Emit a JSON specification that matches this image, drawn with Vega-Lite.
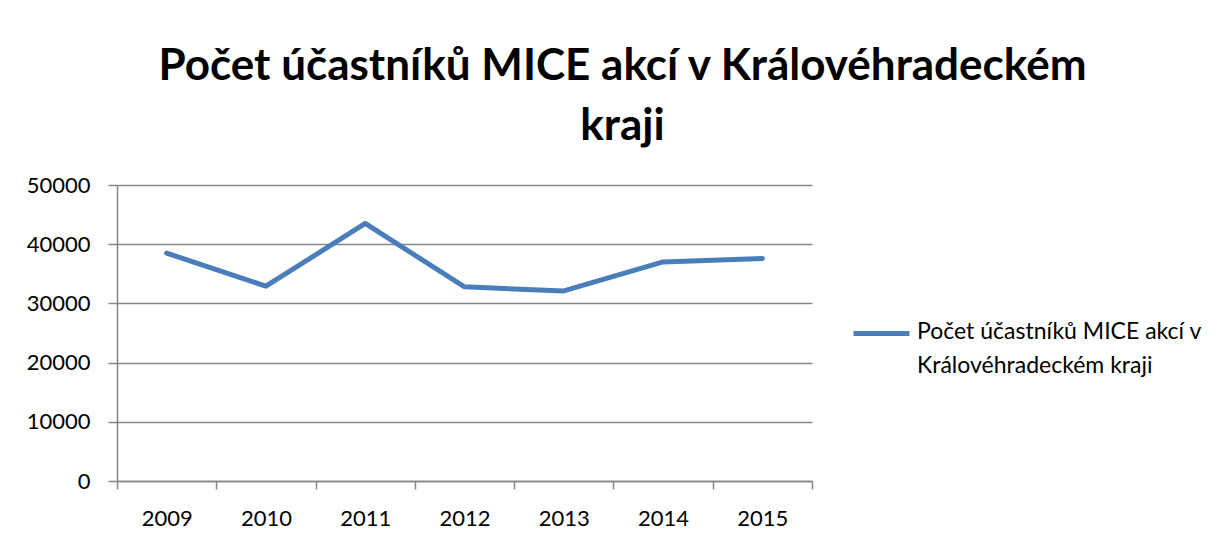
{
  "$schema": "https://vega.github.io/schema/vega-lite/v6.json",
  "autosize": "none",
  "width": 695,
  "height": 296,
  "padding": {"left": 117, "top": 185, "right": 412, "bottom": 60},
  "background": "white",
  "data": {
    "values": [
      {"rok": "2009", "pocet": 38500, "serie": "Počet účastníků MICE akcí v Královéhradeckém kraji"},
      {"rok": "2010", "pocet": 32900, "serie": "Počet účastníků MICE akcí v Královéhradeckém kraji"},
      {"rok": "2011", "pocet": 43500, "serie": "Počet účastníků MICE akcí v Královéhradeckém kraji"},
      {"rok": "2012", "pocet": 32800, "serie": "Počet účastníků MICE akcí v Královéhradeckém kraji"},
      {"rok": "2013", "pocet": 32100, "serie": "Počet účastníků MICE akcí v Královéhradeckém kraji"},
      {"rok": "2014", "pocet": 37000, "serie": "Počet účastníků MICE akcí v Královéhradeckém kraji"},
      {"rok": "2015", "pocet": 37600, "serie": "Počet účastníků MICE akcí v Královéhradeckém kraji"}
    ]
  },
  "title": {
    "text": ["Počet účastníků MICE akcí v Královéhradeckém", "kraji"],
    "font": "Lato",
    "fontSize": 44,
    "fontWeight": "bold",
    "color": "black",
    "lineHeight": 60,
    "anchor": "middle",
    "dx": 158,
    "offset": 25
  },
  "mark": {"type": "line", "strokeWidth": 5, "color": "#4A7EBB", "strokeCap": "round", "strokeJoin": "round"},
  "encoding": {
    "x": {
      "field": "rok",
      "type": "ordinal",
      "scale": {"paddingInner": 0, "paddingOuter": 0},
      "axis": {
        "title": null,
        "labelAngle": 0,
        "tickBand": "extent",
        "tickSize": 8,
        "tickColor": "#868686",
        "tickWidth": 1.5,
        "domainColor": "#868686",
        "domainWidth": 1.5,
        "labelFont": "Lato",
        "labelFontSize": 22,
        "labelColor": "black",
        "labelPadding": 19,
        "grid": false
      }
    },
    "y": {
      "field": "pocet",
      "type": "quantitative",
      "scale": {"domain": [0, 50000]},
      "axis": {
        "title": null,
        "values": [0, 10000, 20000, 30000, 40000, 50000],
        "format": "d",
        "tickSize": 9,
        "tickColor": "#868686",
        "tickWidth": 1.5,
        "domainColor": "#868686",
        "domainWidth": 1.5,
        "gridColor": "#868686",
        "gridWidth": 1.5,
        "labelFont": "Lato",
        "labelFontSize": 22,
        "labelColor": "black",
        "labelPadding": 18
      }
    },
    "color": {
      "field": "serie",
      "type": "nominal",
      "scale": {"range": ["#4A7EBB"]},
      "legend": {
        "title": null,
        "orient": "none",
        "legendX": 734,
        "legendY": 118,
        "symbolType": "stroke",
        "symbolSize": 3136,
        "symbolStrokeWidth": 5,
        "labelFont": "Lato",
        "labelFontSize": 23,
        "labelColor": "black",
        "labelOffset": 5,
        "labelLimit": 400,
        "labelBaseline": "top",
        "labelExpr": "[slice(datum.label, 0, 27), slice(datum.label, 28)]",
        "encode": {
          "labels": {"update": {"lineHeight": {"value": 34}, "dy": {"value": -13}}}
        }
      }
    }
  },
  "config": {
    "view": {"stroke": null}
  }
}
